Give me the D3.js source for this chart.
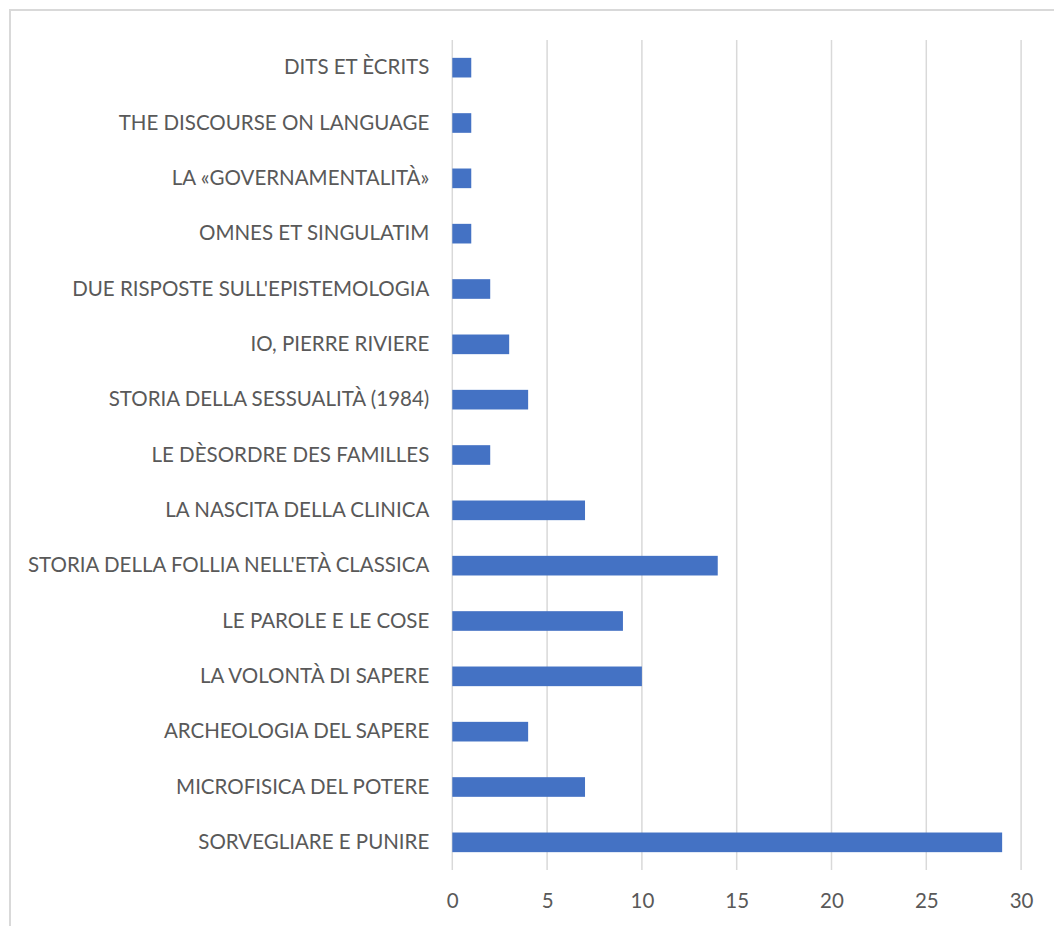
<!DOCTYPE html>
<html>
<head>
<meta charset="utf-8">
<script src="https://cdn.jsdelivr.net/npm/d3@7"></script>
<style>
  html, body { margin: 0; padding: 0; background: #fff; }
  svg { display: block; }
  text { font-family: Lato, "Open Sans", sans-serif; fill: #595959; }
</style>
</head>
<body>
<svg id="chart" width="1054" height="926"></svg>
<script>
// Works listed top to bottom, with their counts
const titles = [
  "DITS ET ÈCRITS",
  "THE DISCOURSE ON LANGUAGE",
  "LA «GOVERNAMENTALITÀ»",
  "OMNES ET SINGULATIM",
  "DUE RISPOSTE SULL'EPISTEMOLOGIA",
  "IO, PIERRE RIVIERE",
  "STORIA DELLA SESSUALITÀ (1984)",
  "LE DÈSORDRE DES FAMILLES",
  "LA NASCITA DELLA CLINICA",
  "STORIA DELLA FOLLIA NELL'ETÀ CLASSICA",
  "LE PAROLE E LE COSE",
  "LA VOLONTÀ DI SAPERE",
  "ARCHEOLOGIA DEL SAPERE",
  "MICROFISICA DEL POTERE",
  "SORVEGLIARE E PUNIRE"
];
const counts = [1, 1, 1, 1, 2, 3, 4, 2, 7, 14, 9, 10, 4, 7, 29];
const xTicks = [0, 5, 10, 15, 20, 25, 30];

const svg = d3.select("#chart");

// Chart frame (runs off the right and bottom edges)
svg.append("path")
  .attr("d", "M10,926 V10 H1054")
  .attr("fill", "none")
  .attr("stroke", "#d9d9d9")
  .attr("stroke-width", 2);

const plot = { left: 452.3, right: 1021.1, top: 40, bottom: 870 };

const x = d3.scaleLinear().domain([0, 30]).range([plot.left, plot.right]);
const y = d3.scaleBand().domain(titles).range([plot.top, plot.bottom]).paddingInner(0.645).paddingOuter(0.3225);

// Vertical gridlines
svg.append("g")
  .selectAll("line")
  .data(xTicks)
  .join("line")
  .attr("x1", d => x(d)).attr("x2", d => x(d))
  .attr("y1", plot.top).attr("y2", plot.bottom)
  .attr("stroke", "#d9d9d9")
  .attr("stroke-width", 1.5);

// Bars
svg.append("g")
  .selectAll("rect")
  .data(titles.map((t, i) => ({ t, v: counts[i] })))
  .join("rect")
  .attr("x", x(0))
  .attr("y", d => y(d.t))
  .attr("width", d => x(d.v) - x(0))
  .attr("height", y.bandwidth())
  .attr("fill", "#4472c4");

// Category labels
const yAxis = d3.axisLeft(y).tickSize(0).tickPadding(23);
const gy = svg.append("g").attr("transform", `translate(${plot.left},0)`).call(yAxis);
gy.select(".domain").remove();
gy.selectAll("text")
  .style("font-size", "20.5px")
  .style("font-family", "Lato, 'Open Sans', sans-serif")
  .attr("fill", "#595959");

// Value axis labels
const xAxis = d3.axisBottom(x).tickValues(xTicks).tickSize(0).tickPadding(23);
const gx = svg.append("g").attr("transform", `translate(0,${plot.bottom})`).call(xAxis);
gx.select(".domain").remove();
gx.selectAll("text")
  .style("font-size", "20.5px")
  .style("font-family", "Lato, 'Open Sans', sans-serif")
  .attr("fill", "#595959");
</script>
</body>
</html>
